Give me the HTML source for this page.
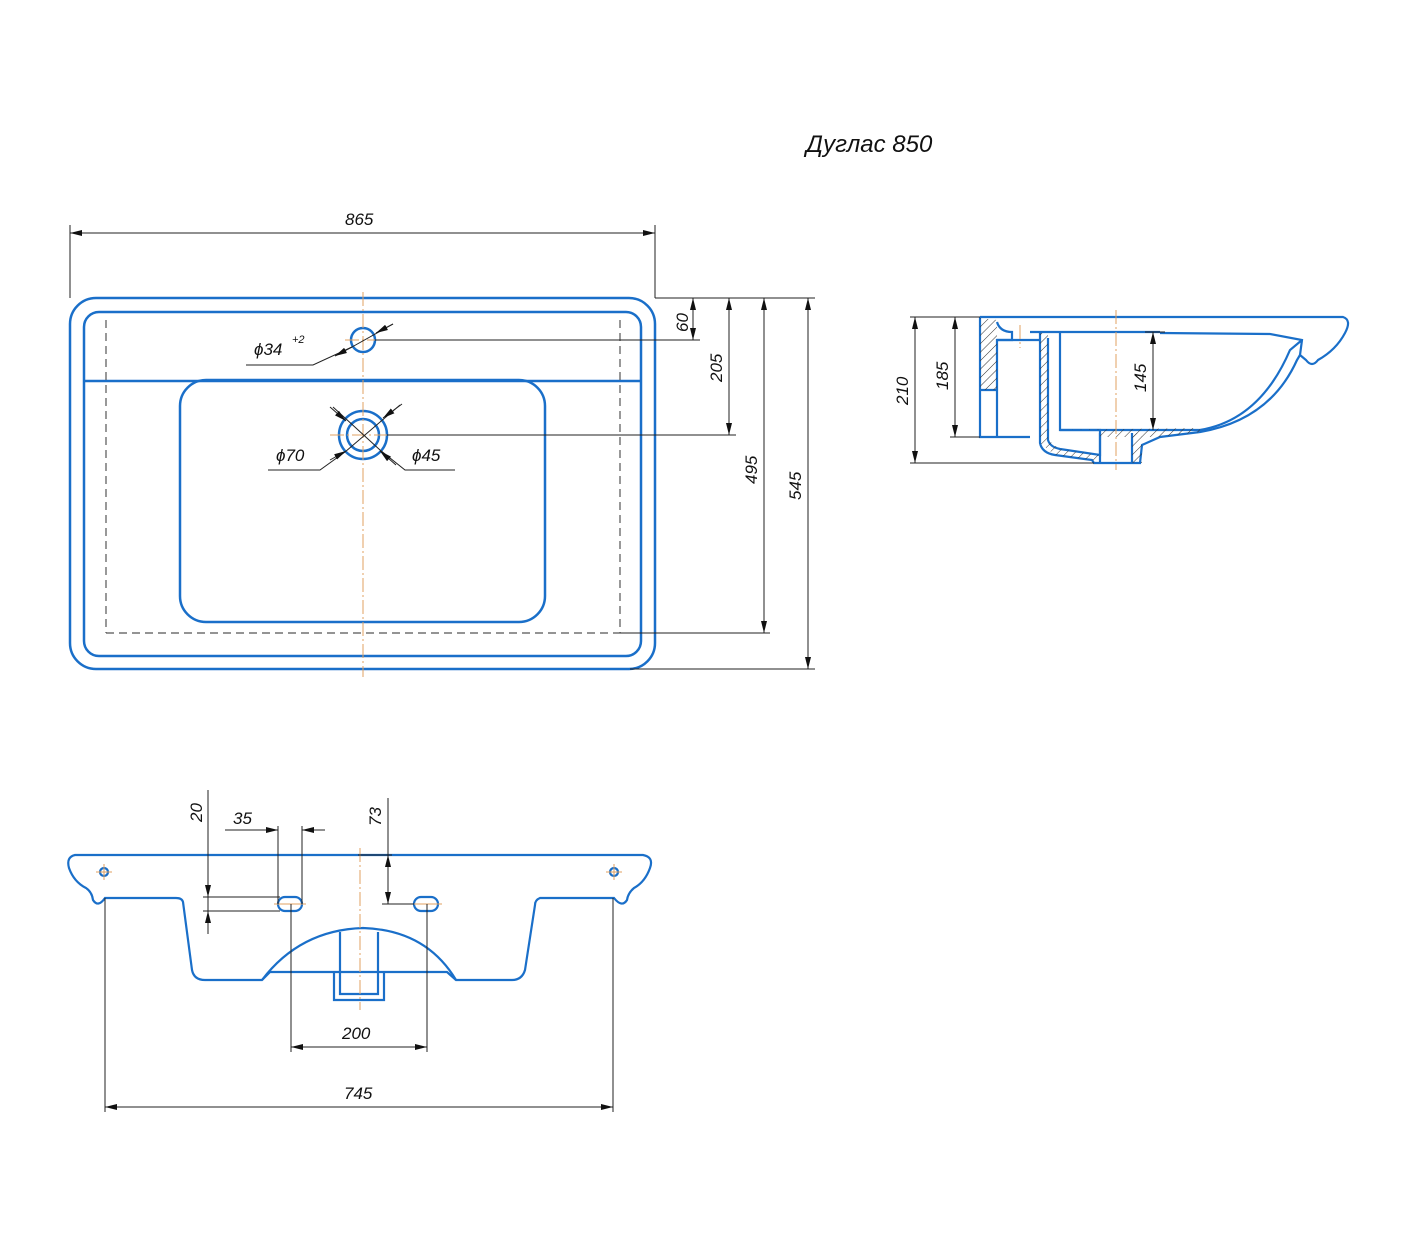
<!DOCTYPE html>
<html><head><meta charset="utf-8"><style>
html,body{margin:0;padding:0;background:#fff;}
svg{display:block}
text{font-family:"Liberation Sans",sans-serif;font-style:italic;fill:#111}
</style></head><body>
<svg width="1417" height="1243" viewBox="0 0 1417 1243" xmlns="http://www.w3.org/2000/svg">
<defs>
<marker id="a" viewBox="0 0 12 6" refX="12" refY="3" markerWidth="12" markerHeight="6" orient="auto-start-reverse" markerUnits="userSpaceOnUse"><path d="M0,0 L12,3 L0,6 z" fill="#111"/></marker>
<pattern id="h" width="6" height="6" patternUnits="userSpaceOnUse" patternTransform="rotate(45)"><line x1="0" y1="0" x2="0" y2="6" stroke="#333" stroke-width="1"/></pattern>
</defs>
<text x="806" y="152" font-size="24">Дуглас 850</text>

<!-- TOP VIEW -->
<g fill="none" stroke="#1a6fc9" stroke-width="2.5">
<rect x="70" y="298" width="585" height="371" rx="26"/>
<rect x="84" y="312" width="557" height="344" rx="15"/>
<line x1="84" y1="381" x2="641" y2="381"/>
<rect x="180" y="380" width="365" height="242" rx="26"/>
<circle cx="363" cy="340" r="12"/>
<circle cx="363" cy="435" r="24"/>
<circle cx="363" cy="435" r="16"/>
</g>
<g fill="none" stroke="#555" stroke-width="1.2" stroke-dasharray="8,5">
<line x1="106" y1="320" x2="106" y2="633"/>
<line x1="620" y1="320" x2="620" y2="633"/>
<line x1="106" y1="633" x2="620" y2="633"/>
</g>
<g stroke="#e0a060" stroke-width="1" stroke-dasharray="14,3,2,3" fill="none">
<line x1="363" y1="292" x2="363" y2="677"/>
<line x1="345" y1="340" x2="381" y2="340"/>
<line x1="330" y1="435" x2="396" y2="435"/>
</g>
<g stroke="#222" stroke-width="1" fill="none">
<line x1="70" y1="225" x2="70" y2="298"/><line x1="655" y1="225" x2="655" y2="298"/>
<line x1="70" y1="233" x2="655" y2="233" marker-start="url(#a)" marker-end="url(#a)"/>
<line x1="655" y1="298" x2="815" y2="298"/>
<line x1="375" y1="340" x2="700" y2="340"/>
<line x1="387" y1="435" x2="736" y2="435"/>
<line x1="620" y1="633" x2="770" y2="633"/>
<line x1="630" y1="669" x2="815" y2="669"/>
<line x1="693" y1="298" x2="693" y2="340" marker-start="url(#a)" marker-end="url(#a)"/>
<line x1="729" y1="298" x2="729" y2="435" marker-start="url(#a)" marker-end="url(#a)"/>
<line x1="764" y1="298" x2="764" y2="633" marker-start="url(#a)" marker-end="url(#a)"/>
<line x1="808" y1="298" x2="808" y2="669" marker-start="url(#a)" marker-end="url(#a)"/>
<polyline points="246,365 313,365 352,347"/>
<line x1="352" y1="347" x2="393" y2="324"/>
<line x1="352" y1="347" x2="335" y2="356" marker-end="url(#a)"/>
<line x1="393" y1="324" x2="376" y2="333" marker-end="url(#a)"/>
<polyline points="268,470 320,470 345,452"/>
<line x1="345" y1="452" x2="400" y2="405"/>
<polyline points="455,470 405,470 380,450"/>
<line x1="380" y1="450" x2="333" y2="407"/>
</g>
<g stroke="#222" stroke-width="1">
<line x1="330" y1="460" x2="346" y2="451" marker-end="url(#a)"/>
<line x1="402" y1="404" x2="383" y2="418" marker-end="url(#a)"/>
<line x1="330" y1="407" x2="346" y2="421" marker-end="url(#a)"/>
<line x1="396" y1="465" x2="380" y2="451" marker-end="url(#a)"/>
</g>
<text x="345" y="225" font-size="17">865</text>
<text x="254" y="355" font-size="17">ϕ34</text>
<text x="292" y="343" font-size="11">+2</text>
<text x="276" y="461" font-size="17">ϕ70</text>
<text x="412" y="461" font-size="17">ϕ45</text>
<text font-size="17" transform="translate(688,332) rotate(-90)">60</text>
<text font-size="17" transform="translate(722,382) rotate(-90)">205</text>
<text font-size="17" transform="translate(757,484) rotate(-90)">495</text>
<text font-size="17" transform="translate(801,500) rotate(-90)">545</text>

<!-- SIDE VIEW -->
<g stroke="#1a6fc9" stroke-width="2.2" fill="none">
<path d="M980,317 L1343,317 Q1352,320 1345,333 Q1336,350 1318,360 Q1312,368 1306,360 L1300,355 L1302,340 L1270,334 L1160,333"/>
<path d="M1030,332 L1160,332"/>
<path d="M980,317 L980,437 L1030,437"/>
<path d="M997,322 Q1000,332 1012,332 L1012,340 L997,340 L997,437"/>
<path d="M997,340 L1040,340 M997,390 L980,390"/>
<path d="M1040,332 L1040,443 Q1042,453 1055,455 L1092,460 L1094,463 L1140,463 L1142,445 L1160,437 L1200,432 Q1270,420 1297,360 L1300,355"/>
<path d="M1048,338 L1048,440 Q1050,447 1060,449 L1100,455 L1100,430 L1060,430 L1060,333"/>
<path d="M1060,430 L1200,430 Q1260,420 1290,350 L1302,340"/>
<path d="M1100,433 L1100,463 M1132,433 L1132,463"/>
</g>
<path d="M980,318 L997,320 L997,390 L980,390 Z" fill="url(#h)"/>
<path d="M1040,333 L1048,333 L1048,440 L1060,449 L1100,455 L1100,462 L1092,460 L1055,455 L1040,443 Z" fill="url(#h)"/>
<path d="M1060,430 L1100,430 L1100,437 L1160,437 L1200,432 L1200,428 Z" fill="url(#h)"/>
<path d="M1132,433 L1142,433 L1142,463 L1132,463 Z" fill="url(#h)"/>
<g stroke="#e0a060" stroke-width="1" stroke-dasharray="14,3,2,3"><line x1="1116" y1="310" x2="1116" y2="470"/><line x1="1020" y1="325" x2="1020" y2="348"/></g>
<g stroke="#222" stroke-width="1" fill="none">
<line x1="910" y1="317" x2="980" y2="317"/>
<line x1="950" y1="437" x2="980" y2="437"/>
<line x1="910" y1="463" x2="1094" y2="463"/>
<line x1="1145" y1="332" x2="1165" y2="332"/>
<line x1="915" y1="317" x2="915" y2="463" marker-start="url(#a)" marker-end="url(#a)"/>
<line x1="955" y1="317" x2="955" y2="437" marker-start="url(#a)" marker-end="url(#a)"/>
<line x1="1153" y1="332" x2="1153" y2="430" marker-start="url(#a)" marker-end="url(#a)"/>
</g>
<text font-size="17" transform="translate(908,405) rotate(-90)">210</text>
<text font-size="17" transform="translate(948,390) rotate(-90)">185</text>
<text font-size="17" transform="translate(1146,392) rotate(-90)">145</text>

<!-- BOTTOM VIEW -->
<g stroke="#1a6fc9" stroke-width="2.2" fill="none">
<path d="M75,855 L643,855 Q654,857 650,868 Q645,882 634,888 Q628,893 627,900 Q622,908 614,898 L540,898 Q535,900 535,905 L525,970 Q522,980 512,980 L456,980 L447,972 L270,972 L262,980 L205,980 Q194,980 192,970 L183,902 Q182,898 176,898 L105,898 Q98,908 93,900 Q92,892 86,888 Q74,882 69,868 Q66,857 75,855 Z"/>
<path d="M262,980 Q300,930 363,928 Q426,930 456,980"/>
<path d="M334,972 L334,1000 L384,1000 L384,972 M340,932 L340,994 L378,994 L378,932"/>
<rect x="278" y="897" width="24" height="14" rx="7"/>
<rect x="414" y="897" width="24" height="14" rx="7"/>
<circle cx="104" cy="872" r="4"/><circle cx="614" cy="872" r="4"/>
</g>
<g stroke="#e0a060" stroke-width="1">
<line x1="96" y1="872" x2="112" y2="872"/><line x1="104" y1="864" x2="104" y2="880"/>
<line x1="606" y1="872" x2="622" y2="872"/><line x1="614" y1="864" x2="614" y2="880"/>
<line x1="274" y1="904" x2="306" y2="904"/><line x1="410" y1="904" x2="442" y2="904"/>
<line x1="360" y1="848" x2="360" y2="1010" stroke-dasharray="14,3,2,3"/>
</g>
<g stroke="#222" stroke-width="1" fill="none">
<line x1="208" y1="790" x2="208" y2="934"/>
<line x1="203" y1="897" x2="280" y2="897"/><line x1="203" y1="911" x2="280" y2="911"/>
<line x1="208" y1="868" x2="208" y2="897" marker-end="url(#a)"/>
<line x1="208" y1="934" x2="208" y2="911" marker-end="url(#a)"/>
<line x1="278" y1="826" x2="278" y2="904"/><line x1="302" y1="826" x2="302" y2="904"/>
<line x1="225" y1="830" x2="278" y2="830" marker-end="url(#a)"/>
<line x1="325" y1="830" x2="302" y2="830" marker-end="url(#a)"/>
<line x1="388" y1="798" x2="388" y2="904"/>
<line x1="358" y1="855" x2="392" y2="855"/>
<line x1="382" y1="904" x2="414" y2="904"/>
<line x1="388" y1="855" x2="388" y2="904" marker-start="url(#a)" marker-end="url(#a)"/>
<line x1="105" y1="898" x2="105" y2="1112"/><line x1="613" y1="898" x2="613" y2="1112"/>
<line x1="291" y1="904" x2="291" y2="1052"/><line x1="427" y1="904" x2="427" y2="1052"/>
<line x1="291" y1="1047" x2="427" y2="1047" marker-start="url(#a)" marker-end="url(#a)"/>
<line x1="105" y1="1107" x2="613" y2="1107" marker-start="url(#a)" marker-end="url(#a)"/>
</g>
<text font-size="17" transform="translate(202,822) rotate(-90)">20</text>
<text x="233" y="824" font-size="17">35</text>
<text font-size="17" transform="translate(381,826) rotate(-90)">73</text>
<text x="342" y="1039" font-size="17">200</text>
<text x="344" y="1099" font-size="17">745</text>
</svg>
</body></html>
